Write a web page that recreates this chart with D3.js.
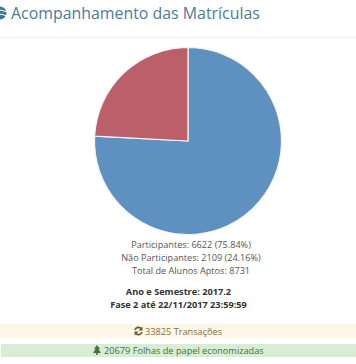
<!DOCTYPE html>
<html><head><meta charset="utf-8">
<script src="https://cdn.jsdelivr.net/npm/d3@7/dist/d3.min.js"></script>
<style>html,body{margin:0;padding:0;background:#fff;overflow:hidden}svg{display:block}</style>
</head><body><div id="c"></div>
<script>
const categories=["Participantes","Não Participantes"];
const values=[6622,2109];
const colors=["#5e90c0","#bb5f6a"];
const title="Acompanhamento das Matrículas";
const statLines=["Participantes: 6622 (75.84%)","Não Participantes: 2109 (24.16%)","Total de Alunos Aptos: 8731"];
const infoLines=["Ano e Semestre: 2017.2","Fase 2 até 22/11/2017 23:59:59"];
const transacoes="33825 Transações";
const folhas="20679 Folhas de papel economizadas";
const font="'Open Sans',sans-serif";
const svg=d3.select("#c").append("svg").attr("width",356).attr("height",364);
// title
svg.append("circle").attr("cx",0).attr("cy",13).attr("r",6.5).attr("fill","#3e7696");
svg.append("path").attr("d","M-3 11 Q1 9 7 12 M-3 15 Q1 13 7 16").attr("stroke","#fff").attr("fill","none").attr("stroke-width",1);
svg.append("text").attr("x",11).attr("y",19).attr("font-family",font).attr("font-size",15.9).attr("fill","#4a7c9b").text(title);
svg.append("line").attr("x1",0).attr("x2",356).attr("y1",37.5).attr("y2",37.5).attr("stroke","#eeeeee");
// pie
const pie=d3.pie().sort(null)(values);
const arc=d3.arc().innerRadius(0).outerRadius(93.5);
svg.append("g").attr("transform","translate(188,141)").selectAll("path").data(pie).join("path")
 .attr("d",arc).attr("fill",(d,i)=>colors[i]).attr("stroke","#f4f4f4").attr("stroke-width",1.2).attr("stroke-linejoin","round");
// text
const ty=d3.scaleLinear().domain([0,1]).range([248,261]);
svg.append("g").selectAll("text").data(statLines).join("text")
 .attr("x",191).attr("y",(d,i)=>ty(i)).attr("text-anchor","middle").attr("font-family",font).attr("font-size",9.15).attr("fill","#555").text(d=>d);
const iy=d3.scaleLinear().domain([0,1]).range([295,308]);
svg.append("g").selectAll("text").data(infoLines).join("text")
 .attr("x",178.5).attr("y",(d,i)=>iy(i)).attr("text-anchor","middle").attr("font-family",font).attr("font-size",9.2).attr("font-weight",700).attr("fill","#333").text(d=>d);
// bars
svg.append("rect").attr("x",0).attr("y",324).attr("width",356).attr("height",14).attr("fill","#fcf7e6");
svg.append("rect").attr("x",1).attr("y",344).attr("width",355).attr("height",13).attr("fill","#d9ecd4");
svg.append("text").attr("x",145).attr("y",334.5).attr("font-family",font).attr("font-size",9.2).attr("fill","#8a6d3b").text(transacoes);
svg.append("text").attr("x",104).attr("y",354).attr("font-family",font).attr("font-size",9.2).attr("fill","#3c763d").text(folhas);
// icons
svg.append("path").attr("d","M135 330 A3.6 3.6 0 0 1 141.5 329 M142 332 A3.6 3.6 0 0 1 135.5 333").attr("fill","none").attr("stroke","#6b5a35").attr("stroke-width",1.6);
svg.append("path").attr("d","M142.5 326.5V330.5H138.5Z M134.5 335.5V331.5H138.5Z").attr("fill","#6b5a35");
svg.append("path").attr("d","M97 345 L100 349 L98.5 349 L101 353 L93 353 L95.5 349 L94 349 Z M96.2 353h1.6v2h-1.6z").attr("fill","#3c763d");
</script></body></html>
